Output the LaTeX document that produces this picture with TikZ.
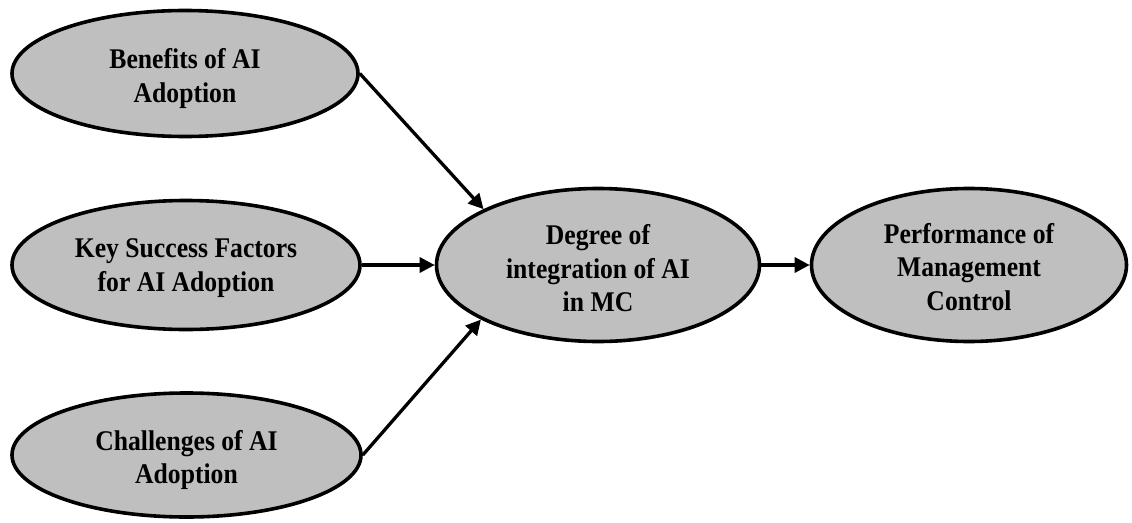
\documentclass[tikz,border=0pt]{standalone}
\usepackage{fontspec}
\setmainfont{Liberation Serif}[FakeStretch=0.9]
\usetikzlibrary{shapes.geometric,arrows.meta}
\definecolor{ellfill}{RGB}{191,191,191}
\tikzset{
  oval/.style={ellipse, draw=black, line width=3.6pt, fill=ellfill, inner sep=0pt},
  lbl/.style={align=center, inner sep=0pt, font=\fontsize{28.5pt}{33.5pt}\selectfont\bfseries},
  link/.style={line width=3.3pt, -{Triangle[length=15pt,width=15pt]}}
}
\begin{document}
\begin{tikzpicture}[x=1pt,y=-1pt]
\useasboundingbox (0,0) rectangle (1132,522);
\node[oval, minimum width=346pt, minimum height=126pt] (ben) at (185,73.5) {};
\node[oval, minimum width=348pt, minimum height=129pt] (ksf) at (186,265) {};
\node[oval, minimum width=349pt, minimum height=124pt] (cha) at (186.5,455) {};
\node[oval, minimum width=323pt, minimum height=153pt] (deg) at (598,265) {};
\node[oval, minimum width=315pt, minimum height=153pt] (perf) at (969,265) {};
\node[lbl] (benT) at ([yshift=-5pt]ben.center) {Benefits of AI\\Adoption};
\node[lbl] (ksfT) at ([yshift=-3pt]ksf.center) {Key Success Factors\\for AI Adoption};
\node[lbl] (chaT) at ([yshift=-5pt]cha.center) {Challenges of AI\\Adoption};
\node[lbl] (degT) at ([yshift=-3.5pt]deg.center) {Degree of\\integration of AI\\in MC};
\node[lbl] (perfT) at ([yshift=-2pt]perf.center) {Performance of\\Management\\Control};
\draw[link] (ben.east) -- (deg.154.6);
\draw[link] (ksf.east) -- (deg.west);
\draw[link] (cha.east) -- (deg.205.4);
\draw[link] (deg.east) -- (perf.west);
\end{tikzpicture}
\end{document}
